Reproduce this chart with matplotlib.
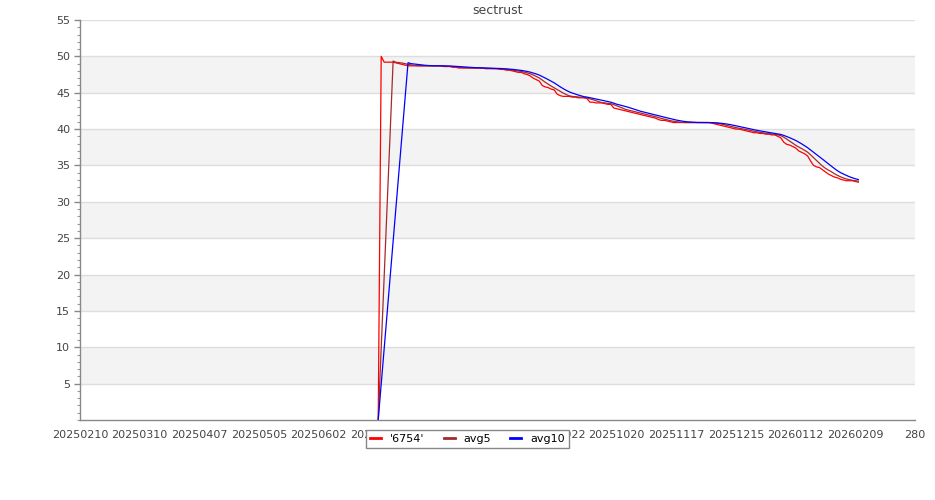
import pandas as pd
import matplotlib
matplotlib.use('Agg')
import matplotlib.pyplot as plt
from matplotlib.ticker import MultipleLocator

# x is a trading-day index; ticks every 20 days
tick_pos = list(range(0, 281, 20))
tick_labels = ['20250210', '20250310', '20250407', '20250505', '20250602',
               '20250630', '20250728', '20250825', '20250922', '20251020',
               '20251117', '20251215', '20260112', '20260209', '280']

first_idx = 100
price = [0.0,
         50.0, 49.2, 49.2, 49.2, 49.2, 49.1, 49.0, 48.9, 48.8, 48.7,
         48.7, 48.7, 48.7, 48.7, 48.7, 48.7, 48.7, 48.7, 48.7, 48.7,
         48.7, 48.6, 48.6, 48.6, 48.5, 48.5, 48.4, 48.4, 48.4, 48.4,
         48.4, 48.4, 48.4, 48.4, 48.4, 48.3, 48.3, 48.3, 48.3, 48.3,
         48.2, 48.2, 48.1, 48.1, 48.0, 47.9, 47.8, 47.8, 47.6, 47.5,
         47.3, 47.0, 46.8, 46.6, 46.0, 45.8, 45.7, 45.5, 45.4, 44.8,
         44.6, 44.5, 44.5, 44.5, 44.4, 44.4, 44.3, 44.3, 44.3, 44.2,
         43.7, 43.7, 43.6, 43.6, 43.6, 43.5, 43.4, 43.4, 42.9, 42.8,
         42.7, 42.6, 42.5, 42.4, 42.3, 42.2, 42.1, 42.0, 41.9, 41.8,
         41.7, 41.6, 41.5, 41.3, 41.2, 41.2, 41.1, 41.0, 40.9, 40.9,
         40.9, 40.9, 40.9, 40.9, 40.9, 40.9, 40.9, 40.9, 40.9, 40.9,
         40.9, 40.8, 40.7, 40.6, 40.5, 40.4, 40.3, 40.2, 40.1, 40.0,
         40.0, 39.9, 39.8, 39.7, 39.6, 39.5, 39.5, 39.4, 39.4, 39.3,
         39.3, 39.2, 39.2, 39.0, 38.8, 38.2, 37.9, 37.8, 37.6, 37.4,
         37.0, 36.8, 36.6, 36.3, 35.6, 35.0, 34.8, 34.7, 34.4, 34.1,
         33.8, 33.6, 33.4, 33.3, 33.1, 33.0, 32.9, 32.9, 32.9, 32.8, 32.7]

s = pd.Series(price, index=range(first_idx, first_idx + len(price)))

def moving(n):
    m = s.iloc[1:].rolling(n).mean()
    m[first_idx] = 0.0
    return m.sort_index().dropna()

avg5 = moving(5)
avg10 = moving(10)

fig = plt.figure(figsize=(9.35, 5.0), dpi=100)
ax = fig.add_axes([80 / 935, 80 / 500, 835 / 935, 400 / 500])

# alternating bands + grid
for lo in range(5, 55, 10):
    ax.axhspan(lo, lo + 5, color='#f3f3f3', lw=0, zorder=0)
for y in range(5, 56, 5):
    ax.axhline(y, color='#dddddd', lw=1, zorder=0.5)

ax.plot(s.index, s.values, color='red', lw=0.9, label="'6754'")
ax.plot(avg5.index, avg5.values, color='brown', lw=0.9, label='avg5')
ax.plot(avg10.index, avg10.values, color='blue', lw=0.9, label='avg10')

ax.set_xlim(0, 280)
ax.set_ylim(0, 55)
ax.set_xticks(tick_pos)
ax.set_xticklabels(tick_labels)
ax.set_yticks(range(5, 56, 5))
ax.yaxis.set_minor_locator(MultipleLocator(1))

for sp in ['top', 'right']:
    ax.spines[sp].set_visible(False)
for sp in ['left', 'bottom']:
    ax.spines[sp].set_color('#888888')
    ax.spines[sp].set_linewidth(1)

ax.tick_params(axis='x', length=0, pad=7, labelsize=8, labelcolor='#444444')
ax.tick_params(axis='y', which='major', length=4, width=1, color='#888888',
               pad=3, labelsize=8, labelcolor='#444444')
ax.tick_params(axis='y', which='minor', length=2.5, width=0.8, color='#999999')

ax.set_title('sectrust', fontsize=9, color='#444444', pad=4)

leg = ax.legend(loc='upper center', bbox_to_anchor=(0.464, -0.012), ncol=3,
                fontsize=8, handlelength=1.0, columnspacing=1.7,
                fancybox=False, framealpha=1, borderpad=0.35)
leg.get_frame().set_edgecolor('#888888')
leg.get_frame().set_linewidth(1)
for h in leg.get_lines():
    h.set_linewidth(2)

fig.savefig('out.png', dpi=100)
